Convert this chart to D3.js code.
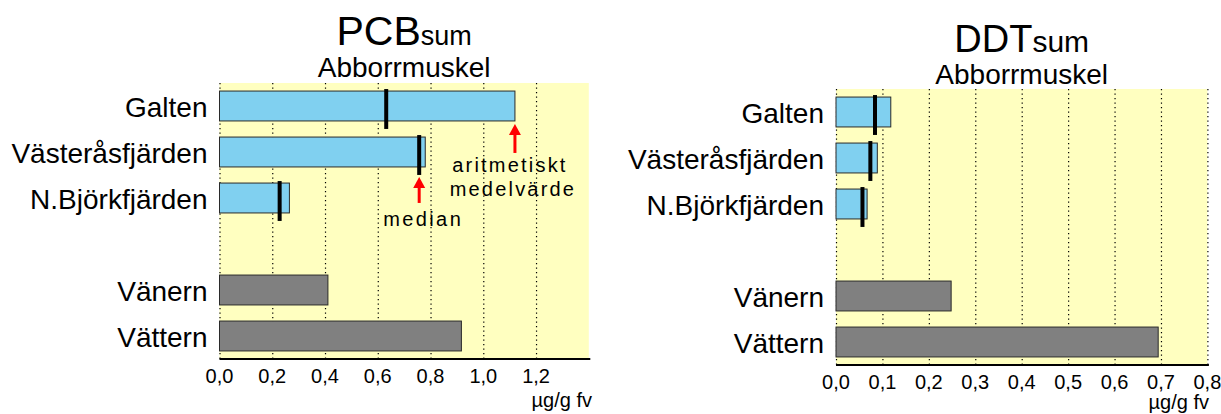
<!DOCTYPE html>
<html>
<head>
<meta charset="utf-8">
<script src="https://cdn.jsdelivr.net/npm/d3@7"></script>
<style>
  body { margin: 0; background: #fff; }
  svg { display: block; font-family: "Liberation Sans", Arial, sans-serif; }
</style>
</head>
<body>
<svg class="mySVG" width="1221" height="414"></svg>
<script>
// stations (blue, with median) and reference lakes (grey)
var sites = ["Galten", "Västeråsfjärden", "N.Björkfjärden"];
var lakes = ["Vänern", "Vättern"];
var rows = sites.concat([""], lakes);   // empty row gives the gap

var pcbMean   = [1.12, 0.78, 0.265];
var pcbMedian = [0.632, 0.757, 0.228];
var pcbLakes  = [0.411, 0.917];
var pcbTicks  = [0, 0.2, 0.4, 0.6, 0.8, 1.0, 1.2];

var ddtMean   = [0.118, 0.089, 0.067];
var ddtMedian = [0.084, 0.074, 0.057];
var ddtLakes  = [0.248, 0.694];
var ddtTicks  = [0, 0.1, 0.2, 0.3, 0.4, 0.5, 0.6, 0.7, 0.8];

var svg = d3.select('.mySVG');
var fmt = d3.formatLocale({decimal: ",", thousands: " ", grouping: [3], currency: ["", ""]}).format(".1f");

function drawChart(o) {
    var x = d3.scaleLinear().domain([0, o.max]).range([o.left, o.right]);
    var y = d3.scaleBand().domain(rows).range([o.top, o.bottom])
        .paddingInner(0.35).paddingOuter(0.175);
    var bw = y.bandwidth();
    var g = svg.append("g");

    // yellow plot background
    g.append("rect")
        .attr("x", o.left).attr("y", o.top)
        .attr("width", o.right - o.left).attr("height", o.bottom - o.top)
        .attr("fill", "#ffffc0");

    // dotted grid
    g.selectAll(".grid").data(o.ticks).join("line")
        .attr("x1", d => x(d) + 0.5).attr("x2", d => x(d) + 0.5)
        .attr("y1", o.top).attr("y2", o.bottom)
        .attr("stroke", "#000").attr("stroke-width", 1.2)
        .attr("stroke-dasharray", "1.3,3.2");

    // bars
    var blue = sites.map((s, i) => ({name: s, v: o.mean[i], m: o.median[i]}));
    var grey = lakes.map((s, i) => ({name: s, v: o.lakes[i]}));

    g.selectAll(".bar").data(blue.concat(grey)).join("rect")
        .attr("x", x(0)).attr("y", d => y(d.name))
        .attr("width", d => x(d.v) - x(0)).attr("height", bw)
        .attr("fill", d => d.m !== undefined ? "#80d0f0" : "#808080")
        .attr("stroke", "#2a2a2a").attr("stroke-width", 1);

    // medians
    g.selectAll(".med").data(blue).join("line")
        .attr("x1", d => x(d.m)).attr("x2", d => x(d.m))
        .attr("y1", d => y(d.name) - 2).attr("y2", d => y(d.name) + bw + 8)
        .attr("stroke", "#000").attr("stroke-width", 4);

    // axis line
    g.append("line")
        .attr("x1", o.left).attr("x2", o.right + 1.5)
        .attr("y1", o.bottom).attr("y2", o.bottom)
        .attr("stroke", "#000").attr("stroke-width", 2);

    // tick labels
    g.selectAll(".tl").data(o.ticks).join("text")
        .attr("x", d => x(d)).attr("y", o.bottom + 24)
        .attr("text-anchor", "middle").attr("font-size", 20)
        .text(d => fmt(d));

    g.append("text")
        .attr("x", o.unitX).attr("y", o.bottom + o.unitDy)
        .attr("text-anchor", "end").attr("font-size", 20)
        .text("µg/g fv");

    // category labels
    g.selectAll(".cat").data(rows.filter(r => r)).join("text")
        .attr("x", o.left - 12).attr("y", d => y(d) + bw / 2 + 11)
        .attr("text-anchor", "end").attr("font-size", 28)
        .text(d => d);

    // titles
    var cx = (o.left + o.right) / 2;
    var t = g.append("text")
        .attr("x", cx).attr("y", o.titleY)
        .attr("text-anchor", "middle").attr("font-size", o.titleSize);
    t.append("tspan").text(o.title);
    t.append("tspan").attr("font-size", o.subSize).text("sum");

    g.append("text")
        .attr("x", cx).attr("y", o.titleY + 32)
        .attr("text-anchor", "middle").attr("font-size", 28)
        .text("Abborrmuskel");

    return {x: x, y: y, bw: bw, g: g, blue: blue};
}

function arrow(g, ax, tip, len) {
    g.append("line")
        .attr("x1", ax).attr("x2", ax)
        .attr("y1", tip + 8).attr("y2", tip + len)
        .attr("stroke", "#ff0000").attr("stroke-width", 3);
    g.append("path")
        .attr("d", `M${ax},${tip} L${ax - 6},${tip + 11} L${ax + 6},${tip + 11} Z`)
        .attr("fill", "#ff0000");
}

var pcb = drawChart({
    title: "PCB", titleSize: 41, subSize: 27, titleY: 45,
    max: 1.4, ticks: pcbTicks, left: 219.5, right: 588.8, top: 83, bottom: 359,
    mean: pcbMean, median: pcbMedian, lakes: pcbLakes,
    unitX: 592, unitDy: 48
});

drawChart({
    title: "DDT", titleSize: 38, subSize: 30, titleY: 52,
    max: 0.8, ticks: ddtTicks, left: 836, right: 1207.4, top: 89, bottom: 365,
    mean: ddtMean, median: ddtMedian, lakes: ddtLakes,
    unitX: 1209, unitDy: 44
});

// annotation arrows on the PCB chart
var meanX = pcb.x(pcbMean[0]);
var meanTip = pcb.y(sites[0]) + pcb.bw + 3;
arrow(pcb.g, meanX, meanTip, 29);
pcb.g.append("text")
    .attr("x", meanX - 5).attr("y", meanTip + 48)
    .attr("text-anchor", "middle").attr("font-size", 20).attr("letter-spacing", 2.2)
    .text("aritmetiskt");
pcb.g.append("text")
    .attr("x", meanX - 2).attr("y", meanTip + 72)
    .attr("text-anchor", "middle").attr("font-size", 20).attr("letter-spacing", 2.2)
    .text("medelvärde");

var medX = pcb.x(pcbMedian[1]);
var medTip = pcb.y(sites[1]) + pcb.bw + 10;
arrow(pcb.g, medX, medTip, 26);
pcb.g.append("text")
    .attr("x", medX + 4).attr("y", medTip + 49)
    .attr("text-anchor", "middle").attr("font-size", 20).attr("letter-spacing", 2.4)
    .text("median");
</script>
</body>
</html>
